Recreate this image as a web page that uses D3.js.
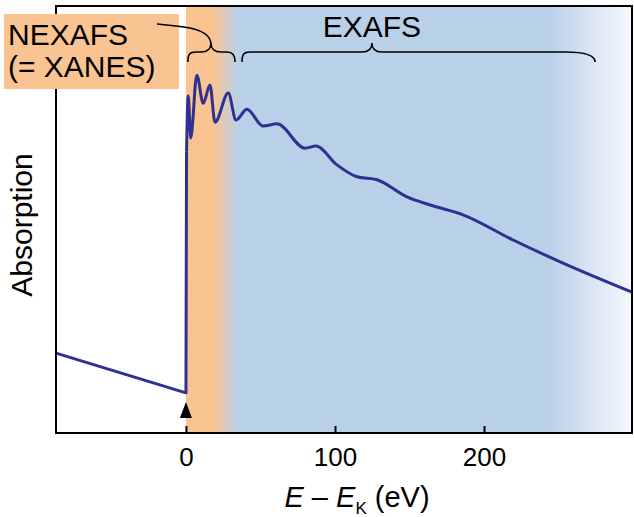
<html>
<head>
<script src="https://d3js.org/d3.v7.min.js"></script>
<style>
  body { margin: 0; background: #fff; }
  text { font-family: "Liberation Sans", Arial, Helvetica, sans-serif; fill: #000; }
</style>
</head>
<body>
<svg class="chart" width="634" height="517"></svg>
<script>
// spectrum (energy relative to K edge, arbitrary absorption)
// pre-edge part is straight, the rest is smooth
const preEnergy = [-87.2, 0, 0.4];
const preAbsorption = [18.7, 9.4, 66];
const energy = [0.4, 1.5, 3.2, 7.3, 11.6, 16.1, 19.5, 28.4, 33.6, 40.9, 51.7, 61.1,
                79.9, 87.2, 101.3, 114.8, 128.2, 148.3, 163.8, 185.9, 219.5, 253.0, 299.3];
const absorption = [66, 79.0, 69.1, 83.8, 77.2, 81.5, 72.8, 79.6, 73.3, 75.8, 71.9, 72.4,
                    66.7, 67.2, 62.8, 60.0, 59.3, 55.3, 53.4, 51.1, 45.2, 39.8, 33.0];
const xTicks = [0, 100, 200];
const xDomain = [-87.2, 299.3];
const edgeEnergy = 0;
// brace [start, tip, end] in eV
const nexafsBrace = [1.3, 16.8, 33];
const exafsBrace = [37.6, 124.8, 274.5];
// band colour stops in eV
const bandStops = [0, 18, 35, 243, 299.3];
const bandColors = ["#fac492", "#fac492", "#b9d0e9", "#b9d0e9", "#f6f9fd"];
const nexafsLabel = ["NEXAFS", "(= XANES)"];
const exafsLabel = "EXAFS";

const svg = d3.select(".chart");
const mLeft = 56, mRight = 632, mTop = 6, mBottom = 433;

const x = d3.scaleLinear().domain(xDomain).range([mLeft, mRight]);
const y = d3.scaleLinear().domain([0, 100]).range([mBottom, mTop]);

// background band
const grad = svg.append("defs").append("linearGradient")
    .attr("id", "band").attr("gradientUnits", "userSpaceOnUse")
    .attr("x1", x(bandStops[0])).attr("x2", x(bandStops[bandStops.length - 1]))
    .attr("y1", 0).attr("y2", 0);
grad.selectAll("stop").data(bandStops).enter().append("stop")
    .attr("offset", d => (x(d) - x(bandStops[0])) / (x(bandStops[bandStops.length - 1]) - x(bandStops[0])))
    .attr("stop-color", (d, i) => bandColors[i]);

svg.append("rect")
    .attr("x", x(bandStops[0])).attr("y", mTop)
    .attr("width", x(bandStops[bandStops.length - 1]) - x(bandStops[0]))
    .attr("height", mBottom - mTop)
    .attr("fill", "url(#band)");

// spectrum
const lineLin = d3.line().x(d => x(d[0])).y(d => y(d[1]));
const lineSmooth = d3.line().x(d => x(d[0])).y(d => y(d[1])).curve(d3.curveMonotoneX);
svg.append("path")
    .datum(preEnergy.map((e, i) => [e, preAbsorption[i]]))
    .attr("fill", "none").attr("stroke", "#2e3192").attr("stroke-width", 3)
    .attr("stroke-linejoin", "round")
    .attr("d", lineLin);
svg.append("path")
    .datum(energy.map((e, i) => [e, absorption[i]]))
    .attr("fill", "none").attr("stroke", "#2e3192").attr("stroke-width", 3)
    .attr("stroke-linejoin", "round")
    .attr("d", lineSmooth);

// frame
svg.append("rect")
    .attr("x", mLeft).attr("y", mTop)
    .attr("width", mRight - mLeft).attr("height", mBottom - mTop)
    .attr("fill", "none").attr("stroke", "#000").attr("stroke-width", 2);

// x axis, ticks pointing in
const gx = svg.append("g")
    .attr("transform", "translate(0," + mBottom + ")")
    .call(d3.axisBottom(x).tickValues(xTicks).tickSizeInner(-7).tickSizeOuter(0).tickPadding(15));
gx.select(".domain").remove();
gx.selectAll(".tick line").attr("stroke", "#000").attr("stroke-width", 2);
gx.selectAll(".tick text")
    .attr("font-size", 26)
    .attr("font-family", "Liberation Sans, Arial, sans-serif")
    .attr("fill", "#000");

// arrow marking the edge
const ax = x(edgeEnergy);
svg.append("path")
    .attr("d", `M${ax},402 L${ax - 6},418 L${ax + 6},418 Z`)
    .attr("fill", "#000");

// axis titles
const xl = svg.append("text")
    .attr("x", 357).attr("y", 507)
    .attr("text-anchor", "middle")
    .attr("font-size", 29);
xl.append("tspan").attr("font-style", "italic").text("E");
xl.append("tspan").text(" \u2013 ");
xl.append("tspan").attr("font-style", "italic").text("E");
xl.append("tspan").attr("font-size", 17).attr("dy", 7).text("K");
xl.append("tspan").attr("dy", -7).text(" (eV)");

svg.append("text")
    .attr("transform", "translate(32,225) rotate(-90)")
    .attr("text-anchor", "middle")
    .attr("font-size", 30)
    .text("Absorption");

// braces
function brace(b, ends) {
  const x0 = x(b[0]), xt = x(b[1]), x1 = x(b[2]);
  const yb = 52, ye = 62, yt = 43;
  return `M${x0},${ye} C${x0},${yb + 2} ${x0 + 2},${yb} ${x0 + ends[0]},${yb}` +
         ` L${xt - 10},${yb} C${xt - 4},${yb} ${xt},${yb - 2} ${xt},${yt}` +
         ` C${xt},${yb - 2} ${xt + 4},${yb} ${xt + 10},${yb}` +
         ` L${x1 - ends[1]},${yb} C${x1 - ends[1] / 2},${yb} ${x1},${yb + 2} ${x1},${ye}`;
}
svg.append("path").attr("d", brace(nexafsBrace, [8, 8]))
    .attr("fill", "none").attr("stroke", "#000").attr("stroke-width", 1.6);
svg.append("path").attr("d", brace(exafsBrace, [8, 30]))
    .attr("fill", "none").attr("stroke", "#000").attr("stroke-width", 1.6);

// labels
svg.append("rect")
    .attr("x", 4).attr("y", 14).attr("width", 175).attr("height", 75)
    .attr("fill", "#fac492");
svg.selectAll(".nlab").data(nexafsLabel).enter().append("text")
    .attr("class", "nlab")
    .attr("x", 8).attr("y", (d, i) => 45 + i * 32)
    .attr("font-size", 30)
    .text(d => d);

// leader from the NEXAFS label to its brace
const tipX = x(nexafsBrace[1]);
svg.append("path")
    .attr("d", `M157,24 L176,26 C196,28 ${tipX - 2},32 ${tipX},43`)
    .attr("fill", "none").attr("stroke", "#000").attr("stroke-width", 1.6);

svg.append("text")
    .attr("x", x(exafsBrace[1])).attr("y", 37)
    .attr("text-anchor", "middle")
    .attr("font-size", 30)
    .text(exafsLabel);
</script>
</body>
</html>
